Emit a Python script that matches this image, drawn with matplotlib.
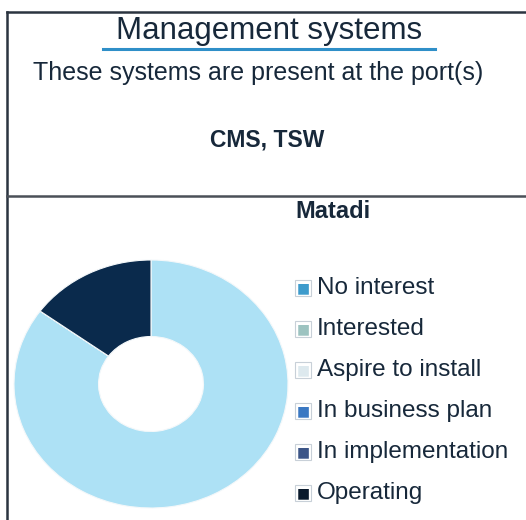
import matplotlib
matplotlib.use("Agg")
import matplotlib.pyplot as plt
from matplotlib.lines import Line2D

plt.rcParams['font.family'] = ['Liberation Sans', 'DejaVu Sans']

title = "Management systems"
subtitle = "These systems are present at the port(s)"
systems = "CMS, TSW"
port = "Matadi"
categories = ["No interest", "Interested", "Aspire to install",
              "In business plan", "In implementation", "Operating"]
values = [0, 0, 85, 0, 0, 15]
colors = ["#3d9bcc", "#8fb9b8", "#ade1f5", "#3a78c2", "#3c5587", "#0a2a4c"]
legend_marker_colors = ["#3d9bcc", "#9cc3c0", "#dde9ee", "#3a78c2", "#3c5587", "#0a1a2c"]

W, H = 526, 520
fig = plt.figure(figsize=(W / 100, H / 100), dpi=100)
fig.patch.set_facecolor("white")

def fx(x): return x / W
def fy(y): return 1 - y / H

txt = "#17283a"
# frame lines
lc = "#2b3440"
fig.add_artist(Line2D([fx(7), fx(7)], [fy(12), fy(520)], color=lc, lw=1.8))
fig.add_artist(Line2D([fx(7), fx(526)], [fy(12), fy(12)], color=lc, lw=1.8))
fig.add_artist(Line2D([fx(7), fx(526)], [fy(196), fy(196)], color="#4a5058", lw=1.8))

fig.text(fx(269), fy(31), title, ha="center", va="center", fontsize=22.5, color=txt)
fig.add_artist(Line2D([fx(103), fx(435)], [fy(48.5), fy(48.5)], color="#2f8fc8", lw=2.2))
fig.text(fx(258), fy(73), subtitle, ha="center", va="center", fontsize=18, color=txt)
fig.text(fx(267), fy(140), systems, ha="center", va="center", fontsize=16.5,
         fontweight="bold", color=txt)
fig.text(fx(333), fy(212), port, ha="center", va="center", fontsize=17,
         fontweight="bold", color=txt)

ax = fig.add_axes([fx(14), fy(508), 274 / W, 248 / H])
wedges, _ = ax.pie(values, colors=colors, startangle=90, counterclock=False,
                   radius=1.0, wedgeprops=dict(width=0.617, edgecolor="#f4f8fa", linewidth=0.8))
ax.set_xlim(-1.0, 1.0)
ax.set_ylim(-1.0, 1.0)
ax.set_aspect("auto")

# legend
ys = [288, 329, 370, 411, 452, 493]
for cat, c, y in zip(categories, legend_marker_colors, ys):
    fig.text(fx(303), fy(y), "\u25A0", ha="center", va="center", fontsize=10,
             color=c, family="DejaVu Sans",
             bbox=dict(boxstyle="square,pad=0.08", fc="white", ec="#c8d0d8", lw=0.8))
    fig.text(fx(317), fy(y), cat, ha="left", va="center", fontsize=17.5, color=txt)

fig.savefig("out.png", dpi=100, facecolor="white")
